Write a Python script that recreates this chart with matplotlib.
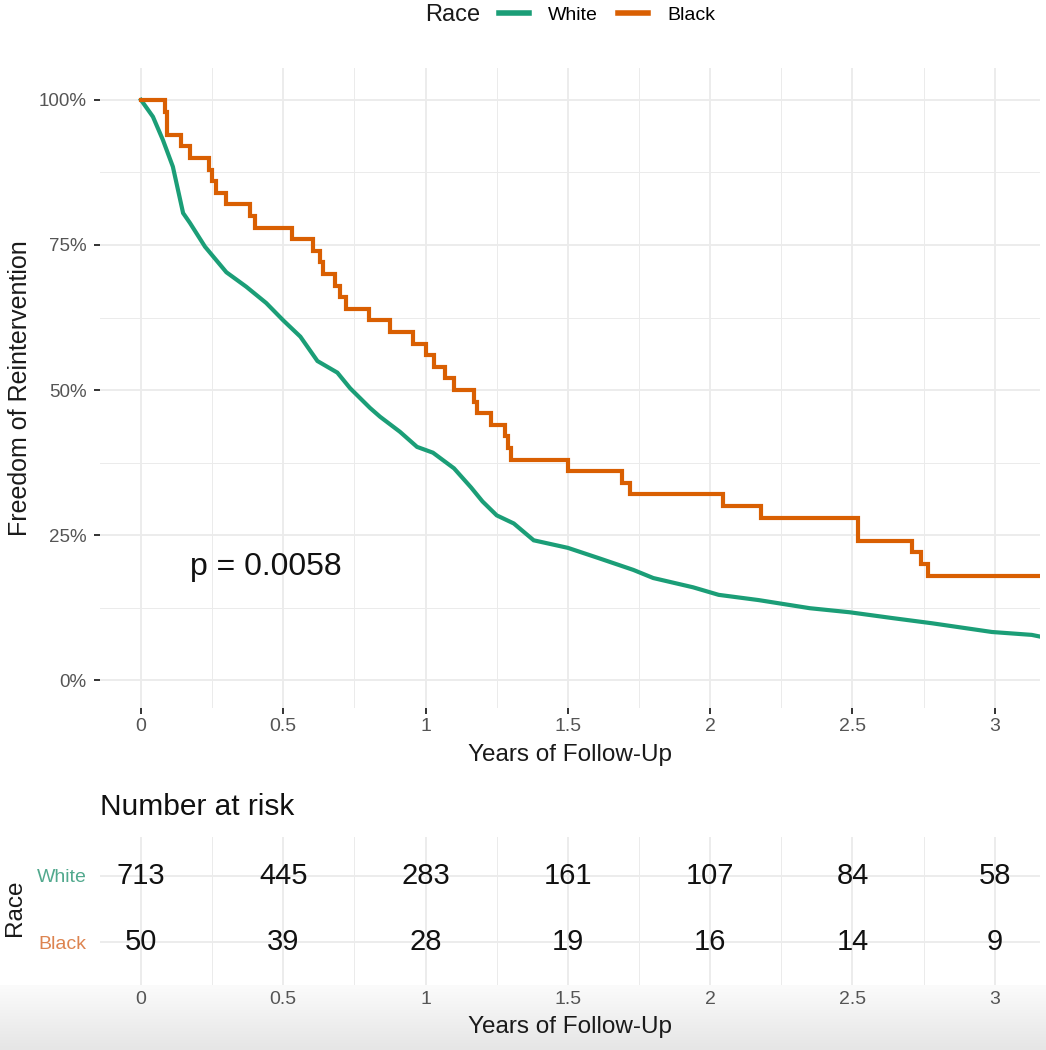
import matplotlib
matplotlib.use('Agg')
import matplotlib.pyplot as plt
import numpy as np
from matplotlib.lines import Line2D

plt.rcParams['font.family'] = ['Liberation Sans', 'DejaVu Sans']

# ---------------- data ----------------
white_t = [0, 0.042, 0.077, 0.112, 0.13, 0.148, 0.172, 0.225, 0.30, 0.37, 0.44, 0.50,
           0.56, 0.62, 0.69, 0.735, 0.805, 0.84, 0.91, 0.97, 1.026, 1.10, 1.16, 1.20,
           1.25, 1.31, 1.38, 1.50, 1.61, 1.73, 1.80, 1.94, 2.03, 2.17, 2.35, 2.49,
           2.64, 2.78, 2.99, 3.13, 3.16]
white_s = [1.00, 0.971, 0.931, 0.885, 0.845, 0.805, 0.788, 0.747, 0.703, 0.678, 0.650, 0.620,
           0.592, 0.550, 0.530, 0.503, 0.469, 0.454, 0.428, 0.402, 0.392, 0.365, 0.332, 0.308,
           0.284, 0.270, 0.241, 0.228, 0.210, 0.190, 0.176, 0.160, 0.147, 0.138, 0.124, 0.117,
           0.107, 0.098, 0.083, 0.078, 0.075]

black_t = [0, 0.085, 0.09, 0.14, 0.172, 0.24, 0.25, 0.265, 0.30, 0.383, 0.40, 0.53,
           0.605, 0.63, 0.64, 0.68, 0.70, 0.72, 0.80, 0.875, 0.955, 1.00, 1.03, 1.07,
           1.10, 1.17, 1.18, 1.23, 1.28, 1.29, 1.30, 1.50, 1.69, 1.72, 2.045, 2.18,
           2.52, 2.71, 2.74, 2.765, 3.16]
black_s = [1.00, 0.98, 0.94, 0.92, 0.90, 0.88, 0.86, 0.84, 0.82, 0.80, 0.78, 0.76,
           0.74, 0.72, 0.70, 0.68, 0.66, 0.64, 0.62, 0.60, 0.58, 0.56, 0.54, 0.52,
           0.50, 0.48, 0.46, 0.44, 0.42, 0.40, 0.38, 0.36, 0.34, 0.32, 0.30, 0.28,
           0.24, 0.22, 0.20, 0.18, 0.18]

groups = ['White', 'Black']
line_colors = ['#1B9E77', '#D95F02']
label_colors = ['#52a98e', '#dd8450']

risk_times = [0, 0.5, 1, 1.5, 2, 2.5, 3]
risk_white = [713, 445, 283, 161, 107, 84, 58]
risk_black = [50, 39, 28, 19, 16, 14, 9]

x_ticks = [0, 0.5, 1, 1.5, 2, 2.5, 3]
x_ticklabels = ['0', '0.5', '1', '1.5', '2', '2.5', '3']
x_minor = [0.25, 0.75, 1.25, 1.75, 2.25, 2.75]
y_ticks = [0, 0.25, 0.5, 0.75, 1.0]
y_ticklabels = ['0%', '25%', '50%', '75%', '100%']
y_minor = [0.125, 0.375, 0.625, 0.875]
p_text = 'p = 0.0058'

# ---------------- layout ----------------
W, H = 1046, 1050
fig = plt.figure(figsize=(W / 100, H / 100), dpi=100)


def fx(px):
    return px / W


def fy(py):
    return 1 - py / H


XLIM = (-0.144, 3.159)
GRID = '#EBEBEB'
TICKLAB = '#555555'

# bottom gray band (screenshot shading)
bg = fig.add_axes([0, 0, 1, fy(985)], zorder=0)
grad = np.linspace(0, 1, 100).reshape(-1, 1)
bg.imshow(grad, aspect='auto', cmap=matplotlib.colors.LinearSegmentedColormap.from_list(
    'g', ['#e6e6e6', '#fbfbfb']), extent=[0, 1, 0, 1], origin='lower')
bg.axis('off')

# ---------------- main survival plot ----------------
ax = fig.add_axes([fx(100), fy(708), fx(1040) - fx(100), fy(68) - fy(708)], zorder=2)
ax.set_facecolor('none')
ax.plot(white_t, white_s, color=line_colors[0], lw=3.0, solid_joinstyle='miter',
        label=groups[0], zorder=3)
ax.step(black_t, black_s, where='post', color=line_colors[1], lw=3.0,
        solid_joinstyle='miter', label=groups[1], zorder=3)

ax.set_xlim(*XLIM)
ax.set_ylim(-0.048, 1.055)
ax.set_xticks(x_ticks)
ax.set_xticklabels(x_ticklabels)
ax.set_xticks(x_minor, minor=True)
ax.set_yticks(y_ticks)
ax.set_yticklabels(y_ticklabels)
ax.set_yticks(y_minor, minor=True)
for s in ax.spines.values():
    s.set_visible(False)
ax.set_axisbelow(True)
ax.grid(which='major', color=GRID, lw=1.3)
ax.grid(which='minor', color=GRID, lw=0.7)
ax.tick_params(axis='both', which='major', length=4.5, width=1.3, color='#222222',
               labelcolor=TICKLAB, labelsize=14)
ax.tick_params(axis='x', which='major', pad=2.5)
ax.tick_params(axis='y', which='major', pad=5, labelsize=13.5)
ax.tick_params(which='minor', length=0)

ax.set_xlabel('Years of Follow-Up', fontsize=17.5, va='center', color='#1a1a1a')
ax.xaxis.set_label_coords(0.5, (708 - 755) / 640)
ax.set_ylabel('Freedom of Reintervention', fontsize=18, va='center', color='#1a1a1a')
ax.yaxis.set_label_coords((20 - 100) / 940, 0.5)

ax.text(0.172, 0.195, p_text, fontsize=23, ha='left', va='center', color='#111111')

# legend on top
fig.text(fx(425), fy(15), 'Race', ha='left', va='center', fontsize=17, color='#1a1a1a')
handles = [Line2D([], [], color=c, lw=4) for c in line_colors]
fig.legend(handles, groups, ncol=2, loc='center left', bbox_to_anchor=(fx(499), fy(15)),
           frameon=False, fontsize=14, handlelength=1.55, handletextpad=0.98,
           columnspacing=1.03, borderpad=0, borderaxespad=0)

# ---------------- number at risk table ----------------
tab = fig.add_axes([fx(100), fy(985), fx(1040) - fx(100), fy(837) - fy(985)], zorder=2)
tab.set_facecolor('none')
tab.set_xlim(*XLIM)
tab.set_ylim(0.35, 2.59)
tab.set_xticks(x_ticks)
tab.set_xticklabels(x_ticklabels)
tab.set_xticks(x_minor, minor=True)
tab.set_yticks([2, 1])
tab.set_yticklabels(groups)
for lab, c in zip(tab.get_yticklabels(), label_colors):
    lab.set_color(c)
for s in tab.spines.values():
    s.set_visible(False)
tab.set_axisbelow(True)
tab.grid(which='major', color=GRID, lw=1.3)
tab.grid(which='minor', axis='x', color=GRID, lw=0.7)
tab.tick_params(which='both', length=0)
tab.tick_params(axis='x', labelsize=14, labelcolor=TICKLAB, pad=4)
tab.tick_params(axis='y', labelsize=14, pad=9.5)

for t, n in zip(risk_times, risk_white):
    tab.text(t, 2, str(n), ha='center', va='center', fontsize=21, color='#111111')
for t, n in zip(risk_times, risk_black):
    tab.text(t, 1, str(n), ha='center', va='center', fontsize=21, color='#111111')

tab.set_xlabel('Years of Follow-Up', fontsize=17.5, va='center', color='#1a1a1a')
tab.xaxis.set_label_coords(0.5, (985 - 1027) / 148)
tab.set_ylabel('Race', fontsize=17.5, va='center', color='#1a1a1a')
tab.yaxis.set_label_coords((15 - 100) / 940, (985 - 908) / 148)

fig.text(fx(100), fy(807), 'Number at risk', ha='left', va='center', fontsize=21.5,
         color='#111111')

fig.savefig('out.png', dpi=100)
